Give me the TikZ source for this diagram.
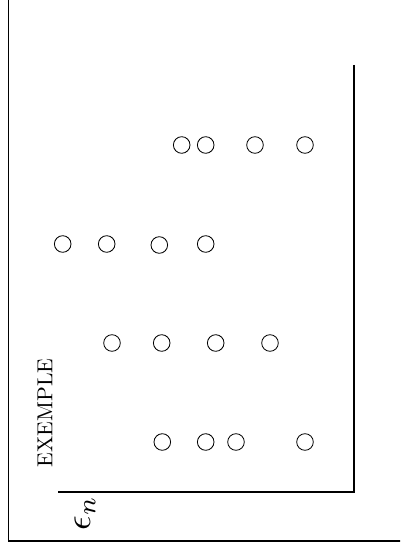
\documentclass[tikz,border=0pt]{standalone}
\begin{document}
\begin{tikzpicture}[x=0.47pt,y=-0.47pt]
\useasboundingbox (0,0) rectangle (400,551);
\clip (0,0) rectangle (400,551);
\draw[line width=0.6pt] (8.5,-20) -- (8.5,541) -- (420,541);
\coordinate (top) at (354,65);
\coordinate (o) at (354,492);
\coordinate (left) at (58,492);
\draw[line width=0.6pt] (top) -- (o) -- (left);
\foreach \x/\y/\nm in {181.7/145/a1,205.7/145/a2,255/145/a3,305/145/a4,
  62.7/244/b1,106.7/244/b2,159.3/245/b3,205.7/244/b4,
  112/343/c1,161.7/343/c2,215.7/343/c3,270/343/c4,
  162.3/442/d1,205.7/442/d2,236/442/d3,305/442/d4}{
  \node[draw,circle,minimum size=7.8pt,inner sep=0pt] (\nm) at (\x,\y) {};
}
\node[rotate=90,scale=1.02] (lab) at (45,413) {EXEMPLE};
\node[rotate=90,scale=1.7] (eps) at (85,513) {$\epsilon_n$};
\end{tikzpicture}
\end{document}
